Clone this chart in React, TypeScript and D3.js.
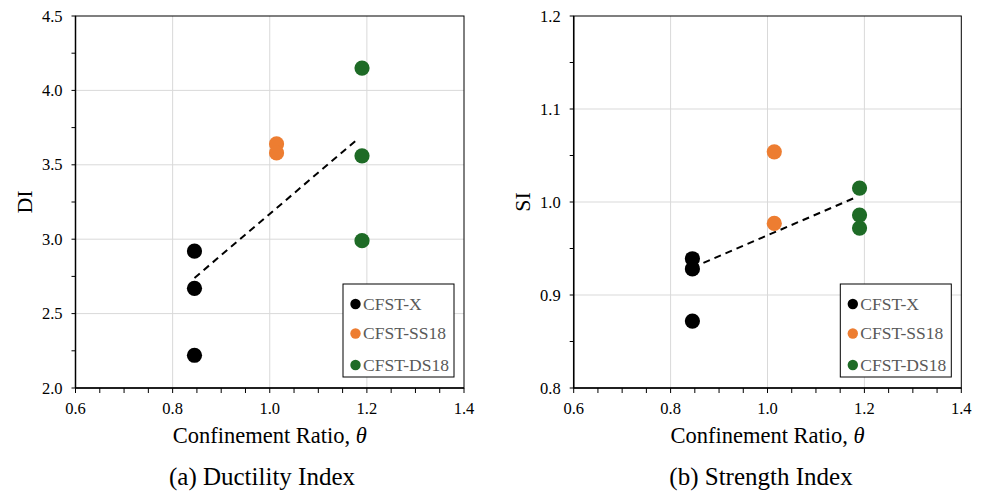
import React from "react";
import * as d3 from "d3";

// Confinement ratio of each specimen group
const groupNames = ["CFST-X", "CFST-SS18", "CFST-DS18"];
const groupColors = ["#000000", "#ED7D31", "#1E6B26"];
const groupTheta = [0.845, 1.014, 1.19];

// Ductility index per group
const diX = [2.92, 2.67, 2.22];
const diSS = [3.64, 3.58];
const diDS = [4.15, 3.56, 2.99];

// Strength index per group
const siX = [0.939, 0.928, 0.872];
const siSS = [1.054, 0.977];
const siDS = [1.015, 0.986, 0.972];

// Trend line extent along θ
const trendTheta = [0.845, 1.18];

const xTicks = [0.6, 0.8, 1.0, 1.2, 1.4];
const diTicks = [2.0, 2.5, 3.0, 3.5, 4.0, 4.5];
const siTicks = [0.8, 0.9, 1.0, 1.1, 1.2];

const FONT = "'Liberation Serif', 'Times New Roman', serif";

type PanelProps = {
  left: number;
  right: number;
  top: number;
  bottom: number;
  yDomain: [number, number];
  yTicks: number[];
  yMinorStep: number;
  yFormat: string;
  yLabel: string;
  caption: string;
  captionX: number;
  series: number[][];
};

function fitLine(xs: number[], ys: number[]) {
  const mx = d3.mean(xs)!;
  const my = d3.mean(ys)!;
  let sxy = 0;
  let sxx = 0;
  xs.forEach((x, i) => {
    sxy += (x - mx) * (ys[i] - my);
    sxx += (x - mx) * (x - mx);
  });
  const slope = sxy / sxx;
  return (x: number) => my + slope * (x - mx);
}

function Panel(p: PanelProps) {
  const x = d3.scaleLinear().domain([0.6, 1.4]).range([p.left, p.right]);
  const y = d3.scaleLinear().domain(p.yDomain).range([p.bottom, p.top]);
  const fmtX = d3.format(".1f");
  const fmtY = d3.format(p.yFormat);

  const xMinor = d3.range(0.6, 1.4001, 0.05);
  const yMinor = d3.range(p.yDomain[0], p.yDomain[1] + 1e-6, p.yMinorStep);

  const pts = p.series.flatMap((vals, g) =>
    vals.map((v) => ({ g, theta: groupTheta[g], v }))
  );
  const fit = fitLine(
    pts.map((d) => d.theta),
    pts.map((d) => d.v)
  );
  const line = d3
    .line<number>()
    .x((t) => x(t))
    .y((t) => y(fit(t)));

  const legX0 = p.right - 121;
  const legY0 = p.bottom - 104;
  const legRows = [legY0 + 20, legY0 + 49.5, legY0 + 81];

  return (
    <g>
      {/* grid */}
      {xTicks
        .filter((t) => t > 0.6 && t < 1.4)
        .map((t) => (
          <line key={"gx" + t} x1={x(t)} x2={x(t)} y1={p.top} y2={p.bottom} stroke="#D9D9D9" strokeWidth={1} />
        ))}
      {p.yTicks
        .filter((t) => t > p.yDomain[0] && t < p.yDomain[1])
        .map((t) => (
          <line key={"gy" + t} x1={p.left} x2={p.right} y1={y(t)} y2={y(t)} stroke="#D9D9D9" strokeWidth={1} />
        ))}

      {/* frame */}
      <rect x={p.left} y={p.top} width={p.right - p.left} height={p.bottom - p.top} fill="none" stroke="#000" strokeWidth={1} />
      <line x1={p.left} x2={p.left} y1={p.top} y2={p.bottom} stroke="#000" strokeWidth={1.5} />
      <line x1={p.left} x2={p.right} y1={p.bottom} y2={p.bottom} stroke="#000" strokeWidth={1.5} />

      {/* ticks */}
      {xMinor.map((t, i) => (
        <line key={"xt" + i} x1={x(t)} x2={x(t)} y1={p.bottom} y2={p.bottom + 5} stroke="#000" strokeWidth={1} />
      ))}
      {yMinor.map((t, i) => (
        <line key={"yt" + i} x1={p.left - 4} x2={p.left} y1={y(t)} y2={y(t)} stroke="#000" strokeWidth={1} />
      ))}
      {xTicks.map((t) => (
        <text key={"xl" + t} x={x(t)} y={p.bottom + 25.5} textAnchor="middle" fontFamily={FONT} fontSize={16.5} fill="#000">
          {fmtX(t)}
        </text>
      ))}
      {p.yTicks.map((t) => (
        <text key={"yl" + t} x={p.left - 13} y={y(t) + 5.5} textAnchor="end" fontFamily={FONT} fontSize={16.5} fill="#000">
          {fmtY(t)}
        </text>
      ))}

      {/* trend line */}
      <path d={line(trendTheta) || ""} fill="none" stroke="#000" strokeWidth={2} strokeDasharray="7,5" />

      {/* points */}
      {pts.map((d, i) => (
        <circle key={"p" + i} cx={x(d.theta)} cy={y(d.v)} r={7.6} fill={groupColors[d.g]} />
      ))}

      {/* legend */}
      <rect x={legX0} y={legY0} width={111} height={93} fill="#fff" stroke="#000" strokeWidth={1} />
      {groupNames.map((n, i) => (
        <g key={"lg" + i}>
          <circle cx={legX0 + 12.5} cy={legRows[i]} r={5.2} fill={groupColors[i]} />
          <text x={legX0 + 20} y={legRows[i] + 5.5} fontFamily={FONT} fontSize={17.5} fill="#595959">
            {n}
          </text>
        </g>
      ))}

      {/* axis titles */}
      <text x={(p.left + p.right) / 2} y={p.bottom + 55} textAnchor="middle" fontFamily={FONT} fontSize={22.5} fill="#000">
        Confinement Ratio, <tspan fontStyle="italic">θ</tspan>
      </text>
      <text
        transform={`translate(${p.left - 44},${(p.top + p.bottom) / 2}) rotate(-90)`}
        textAnchor="middle"
        fontFamily={FONT}
        fontSize={22}
        fill="#000"
      >
        {p.yLabel}
      </text>
      <text x={p.captionX} y={p.bottom + 97} textAnchor="middle" fontFamily={FONT} fontSize={25} fill="#000">
        {p.caption}
      </text>
    </g>
  );
}

export default function App() {
  return (
    <svg
      width={984}
      height={493}
      viewBox="0 0 984 493"
      style={{ position: "absolute", left: 0, top: 0, background: "#fff" }}
    >
      <rect width={984} height={493} fill="#fff" />
      <Panel
        left={75.5}
        right={464}
        top={16}
        bottom={388}
        yDomain={[2.0, 4.5]}
        yTicks={diTicks}
        yMinorStep={0.25}
        yFormat=".1f"
        yLabel="DI"
        caption="(a) Ductility Index"
        captionX={262}
        series={[diX, diSS, diDS]}
      />
      <Panel
        left={573.7}
        right={961.3}
        top={16}
        bottom={388}
        yDomain={[0.8, 1.2]}
        yTicks={siTicks}
        yMinorStep={0.05}
        yFormat=".1f"
        yLabel="SI"
        caption="(b) Strength Index"
        captionX={761}
        series={[siX, siSS, siDS]}
      />
    </svg>
  );
}
